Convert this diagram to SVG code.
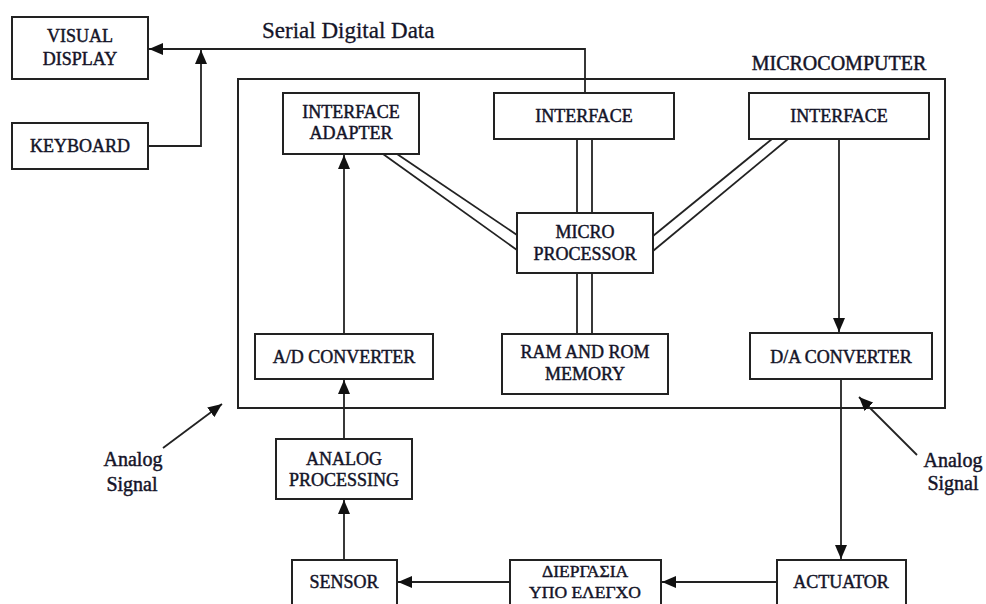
<svg xmlns="http://www.w3.org/2000/svg" width="986" height="604" viewBox="0 0 986 604">
  <style>
    .box { fill: #fff; stroke: #222; stroke-width: 2; }
    .frame { fill: none; stroke: #222; stroke-width: 2; }
    .wire { fill: none; stroke: #222; stroke-width: 1.8; }
    .lbl { font-family: "Liberation Serif", "Times New Roman", serif; font-size: 18px; fill: #141428; text-anchor: middle; stroke: #141428; stroke-width: 0.45; }
    .big { font-family: "Liberation Serif", "Times New Roman", serif; font-size: 23px; fill: #141428; stroke: #141428; stroke-width: 0.3; }
    .note { font-family: "Liberation Serif", "Times New Roman", serif; font-size: 20px; fill: #141428; text-anchor: middle; stroke: #141428; stroke-width: 0.45; }
  </style>
  <defs>
    <marker id="arrow" viewBox="0 0 14 12" refX="14" refY="6" markerWidth="14" markerHeight="12" markerUnits="userSpaceOnUse" orient="auto">
      <path d="M0,0 L14,6 L0,12 Z" fill="#111"/>
    </marker>
  </defs>

  <rect width="986" height="604" fill="#fff"/>

  <!-- microcomputer enclosure -->
  <g id="microcomputer">
    <rect class="frame" x="238" y="79" width="707" height="329"/>
    <text class="lbl" x="839" y="70" style="font-size:20px">MICROCOMPUTER</text>
  </g>

  <!-- connectors -->
  <g id="connectors">
    <!-- serial digital data line to display -->
    <polyline class="wire" points="585,93 585,49 149,49" marker-end="url(#arrow)"/>
    <polyline class="wire" points="148,146 201,146 201,50" marker-end="url(#arrow)"/>
    <!-- A/D to interface adapter -->
    <line class="wire" x1="344" y1="334" x2="344" y2="155" marker-end="url(#arrow)"/>
    <!-- analog chain -->
    <line class="wire" x1="344" y1="439" x2="344" y2="380" marker-end="url(#arrow)"/>
    <line class="wire" x1="344" y1="560" x2="344" y2="500" marker-end="url(#arrow)"/>
    <!-- interface to D/A -->
    <line class="wire" x1="839" y1="139" x2="839" y2="332" marker-end="url(#arrow)"/>
    <!-- D/A to actuator -->
    <line class="wire" x1="841" y1="379" x2="841" y2="559" marker-end="url(#arrow)"/>
    <!-- actuator to process, process to sensor -->
    <line class="wire" x1="777" y1="582" x2="662" y2="582" marker-end="url(#arrow)"/>
    <line class="wire" x1="510" y1="582" x2="398" y2="582" marker-end="url(#arrow)"/>
    <!-- buses (double lines) -->
    <line class="wire" x1="577" y1="139" x2="577" y2="213"/>
    <line class="wire" x1="592" y1="139" x2="592" y2="213"/>
    <line class="wire" x1="577" y1="273" x2="577" y2="334"/>
    <line class="wire" x1="592" y1="273" x2="592" y2="334"/>
    <line class="wire" x1="383" y1="154" x2="517" y2="250"/>
    <line class="wire" x1="397" y1="154" x2="517" y2="235"/>
    <line class="wire" x1="772" y1="139" x2="653" y2="236"/>
    <line class="wire" x1="788" y1="139" x2="653" y2="251"/>
    <!-- analog signal pointers -->
    <line class="wire" x1="163" y1="448" x2="222" y2="404" marker-end="url(#arrow)"/>
    <line class="wire" x1="917" y1="455" x2="859" y2="397" marker-end="url(#arrow)"/>
  </g>

  <g id="visual-display">
    <rect class="box" x="12" y="17" width="136" height="62"/>
    <text class="lbl" x="80" y="42">VISUAL</text>
    <text class="lbl" x="80" y="65">DISPLAY</text>
  </g>
  <g id="keyboard">
    <rect class="box" x="12" y="123" width="136" height="46"/>
    <text class="lbl" x="80" y="152">KEYBOARD</text>
  </g>
  <g id="interface-adapter">
    <rect class="box" x="283" y="93" width="136" height="61"/>
    <text class="lbl" x="351" y="118">INTERFACE</text>
    <text class="lbl" x="351" y="139">ADAPTER</text>
  </g>
  <g id="interface-mid">
    <rect class="box" x="494" y="93" width="180" height="46"/>
    <text class="lbl" x="584" y="122">INTERFACE</text>
  </g>
  <g id="interface-right">
    <rect class="box" x="749" y="93" width="180" height="46"/>
    <text class="lbl" x="839" y="122">INTERFACE</text>
  </g>
  <g id="microprocessor">
    <rect class="box" x="517" y="213" width="136" height="60"/>
    <text class="lbl" x="585" y="238">MICRO</text>
    <text class="lbl" x="585" y="260">PROCESSOR</text>
  </g>
  <g id="memory">
    <rect class="box" x="502" y="334" width="166" height="60"/>
    <text class="lbl" x="585" y="358">RAM AND ROM</text>
    <text class="lbl" x="585" y="380">MEMORY</text>
  </g>
  <g id="ad-converter">
    <rect class="box" x="255" y="334" width="178" height="45"/>
    <text class="lbl" x="344" y="363">A/D CONVERTER</text>
  </g>
  <g id="da-converter">
    <rect class="box" x="750" y="333" width="182" height="46"/>
    <text class="lbl" x="841" y="363">D/A CONVERTER</text>
  </g>
  <g id="analog-processing">
    <rect class="box" x="276" y="439" width="136" height="60"/>
    <text class="lbl" x="344" y="465">ANALOG</text>
    <text class="lbl" x="344" y="486">PROCESSING</text>
  </g>
  <g id="sensor">
    <rect class="box" x="292" y="560" width="105" height="52"/>
    <text class="lbl" x="344" y="588">SENSOR</text>
  </g>
  <g id="process">
    <rect class="box" x="510" y="560" width="151" height="52"/>
    <text class="lbl" x="585" y="577" style="font-size:17.5px">ΔΙΕΡΓΑΣΙΑ</text>
    <text class="lbl" x="585" y="598" style="font-size:17.5px">ΥΠΟ ΕΛΕΓΧΟ</text>
  </g>
  <g id="actuator">
    <rect class="box" x="777" y="560" width="129" height="52"/>
    <text class="lbl" x="841" y="588">ACTUATOR</text>
  </g>

  <!-- free labels -->
  <text class="big" x="262" y="38">Serial Digital Data</text>
  <text class="note" x="133" y="466">Analog</text>
  <text class="note" x="132" y="491">Signal</text>
  <text class="note" x="953" y="467">Analog</text>
  <text class="note" x="953" y="490">Signal</text>
</svg>
